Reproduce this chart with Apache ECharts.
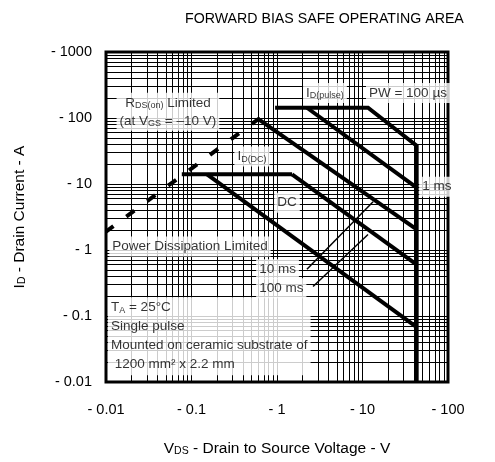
<!DOCTYPE html>
<html>
<head>
<meta charset="utf-8">
<script src="https://cdn.jsdelivr.net/npm/echarts@6/dist/echarts.min.js"></script>
<style>
  html, body { margin: 0; padding: 0; background: #fff; }
  #chart { width: 495px; height: 462px; }
</style>
</head>
<body>
<div id="chart"></div>
<script>
// tick labels (P-channel, values shown negative)
const x_ticks = ["- 0.01", "- 0.1", "- 1", "- 10", "- 100"];
const y_ticks = ["- 0.01", "- 0.1", "- 1", "- 10", "- 100", "- 1000"];

// SOA boundaries, [|VDS| V, |ID| A]
const rds_limit = [[0.63, 100], [0.01, 1.9]];
const pw_100us = [[0.95, 143], [11.6, 143], [43, 38], [43, 0.01]];
const pw_1ms = [[2.24, 143], [43, 8.8]];
const pw_10ms = [[0.6, 97], [43, 2.05]];
const pw_100ms = [[1.5, 14], [43, 0.6]];
const id_dc = [[0.077, 14], [1.5, 14]];
const dc_line = [[0.152, 14], [43, 0.068]];

// pointer arrows for the 10 ms / 100 ms captions
const arrow_10ms = [[2.24, 0.51], [13.3, 5.4]];
const arrow_100ms = [[2.64, 0.28], [11.6, 1.72]];

const FONT = "Liberation Sans, Arial, sans-serif";

// minor grid at 2..9 of every decade
function minors(lo, hi) {
    const out = [];
    for (let d = lo; d < hi; d++) {
        for (let k = 2; k <= 9; k++) out.push(Number((k * Math.pow(10, d)).toPrecision(3)));
    }
    return out;
}

const notes = [
    { text: "R{s|DS(on)} Limited\n(at V{s|GS} = \u201310 V)", at: [0.053, 124], anchor: "center" },
    { text: "I{s|D(pulse)}", at: [3.64, 240], anchor: "center" },
    { text: "PW = 100 \u00b5s", at: [34, 240], anchor: "center" },
    { text: "I{s|D(DC)}", at: [0.51, 26], anchor: "center" },
    { text: "1 ms", at: [74, 9.1], anchor: "center" },
    { text: "DC", at: [1.31, 5.2], anchor: "center" },
    { text: "Power Dissipation Limited", at: [0.096, 1.13], anchor: "center" },
    { text: "10 ms", at: [0.57, 0.51], anchor: "left" },
    { text: "100 ms", at: [0.57, 0.263], anchor: "left" },
    { text: "T{s|A} = 25\u00b0C\nSingle pulse\nMounted on ceramic substrate of\n 1200 mm\u00b2 x 2.2 mm", at: [0.01055, 0.0495], anchor: "left" },
];

function curve(data, extra) {
    return Object.assign({
        type: "line",
        data,
        symbol: "none",
        silent: true,
        z: 3,
        lineStyle: { color: "#000", width: 4, join: "miter", cap: "butt" },
    }, extra || {});
}

const sub_style = { fontSize: 9, fontFamily: FONT, color: "#000", verticalAlign: "middle", padding: [6, 0, 0, 0] };
const sub_name = { fontSize: 10.5, fontFamily: FONT, color: "#000", verticalAlign: "middle", padding: [6, 0, 0, 0] };

const chart = echarts.init(document.getElementById("chart"), null, { renderer: "canvas" });

chart.setOption({
    animation: false,
    backgroundColor: "#fff",
    textStyle: { fontFamily: FONT },
    title: {
        text: "FORWARD BIAS SAFE OPERATING AREA",
        left: 180,
        top: 7,
        textStyle: { fontFamily: FONT, fontSize: 14.2, fontWeight: "normal", color: "#000" },
    },
    grid: {
        left: 106, right: 47, top: 52, bottom: 79,
        show: true, borderColor: "#000", borderWidth: 3, backgroundColor: "#fff",
    },
    xAxis: {
        type: "log", logBase: 10, min: 0.01, max: 100,
        name: "V{s|DS} - Drain to Source Voltage - V",
        nameLocation: "middle", nameGap: 58,
        nameTextStyle: { fontFamily: FONT, fontSize: 15.5, color: "#000", rich: { s: sub_name } },
        axisLine: { show: false },
        axisTick: { show: false },
        splitLine: { show: true, lineStyle: { color: "#000", width: 1 } },
        axisLabel: {
            margin: 20, fontSize: 14.5, color: "#000", fontFamily: FONT,
            showMinLabel: true, showMaxLabel: true,
            formatter: (v) => x_ticks[Math.round(Math.log10(v)) + 2],
        },
    },
    yAxis: {
        type: "log", logBase: 10, min: 0.01, max: 1000,
        name: "I{s|D} - Drain Current - A",
        nameLocation: "middle", nameGap: 78,
        nameTextStyle: { fontFamily: FONT, fontSize: 15.5, color: "#000", rich: { s: sub_name } },
        axisLine: { show: false },
        axisTick: { show: false },
        splitLine: { show: true, lineStyle: { color: "#000", width: 1 } },
        axisLabel: {
            margin: 14, fontSize: 14.5, color: "#000", fontFamily: FONT,
            showMinLabel: true, showMaxLabel: true,
            formatter: (v) => y_ticks[Math.round(Math.log10(v)) + 2],
        },
    },
    series: [
        {
            type: "line",
            data: [],
            symbol: "none",
            silent: true,
            z: 1,
            markLine: {
                silent: true,
                symbol: "none",
                animation: false,
                label: { show: false },
                lineStyle: { color: "#000", width: 1, type: "solid" },
                emphasis: { disabled: true },
                data: [
                    ...minors(-2, 2).map((v) => ({ xAxis: v })),
                    ...minors(-2, 3).map((v) => ({ yAxis: v })),
                ],
            },
        },
        curve(rds_limit, { lineStyle: { color: "#000", width: 4, type: [10, 16] } }),
        curve(pw_100us),
        curve(pw_1ms),
        curve(pw_10ms),
        curve(pw_100ms),
        curve(id_dc),
        curve(dc_line),
        {
            type: "line",
            data: [],
            symbol: "none",
            silent: true,
            z: 4,
            markLine: {
                silent: true,
                animation: false,
                symbol: ["none", "arrow"],
                symbolSize: [0, 9],
                label: { show: false },
                lineStyle: { color: "#000", width: 1.5, type: "solid" },
                emphasis: { disabled: true },
                data: [arrow_10ms, arrow_100ms].map((a) => [{ coord: a[0] }, { coord: a[1] }]),
            },
        },
        {
            type: "scatter",
            symbolSize: 0,
            silent: true,
            z: 5,
            data: notes.map((n) => ({
                value: n.at,
                label: {
                    show: true,
                    formatter: n.text,
                    position: n.anchor === "left" ? "right" : "inside",
                    distance: 0,
                    align: n.anchor === "left" ? "left" : "center",
                    verticalAlign: "middle",
                    fontFamily: FONT,
                    fontSize: 13.5,
                    lineHeight: n.text.indexOf("Mounted") >= 0 ? 19 : 18,
                    color: "#000",
                    backgroundColor: "#fff",
                    padding: [1, 3],
                    rich: { s: sub_style },
                },
            })),
        },
    ],
});
</script>
</body>
</html>
